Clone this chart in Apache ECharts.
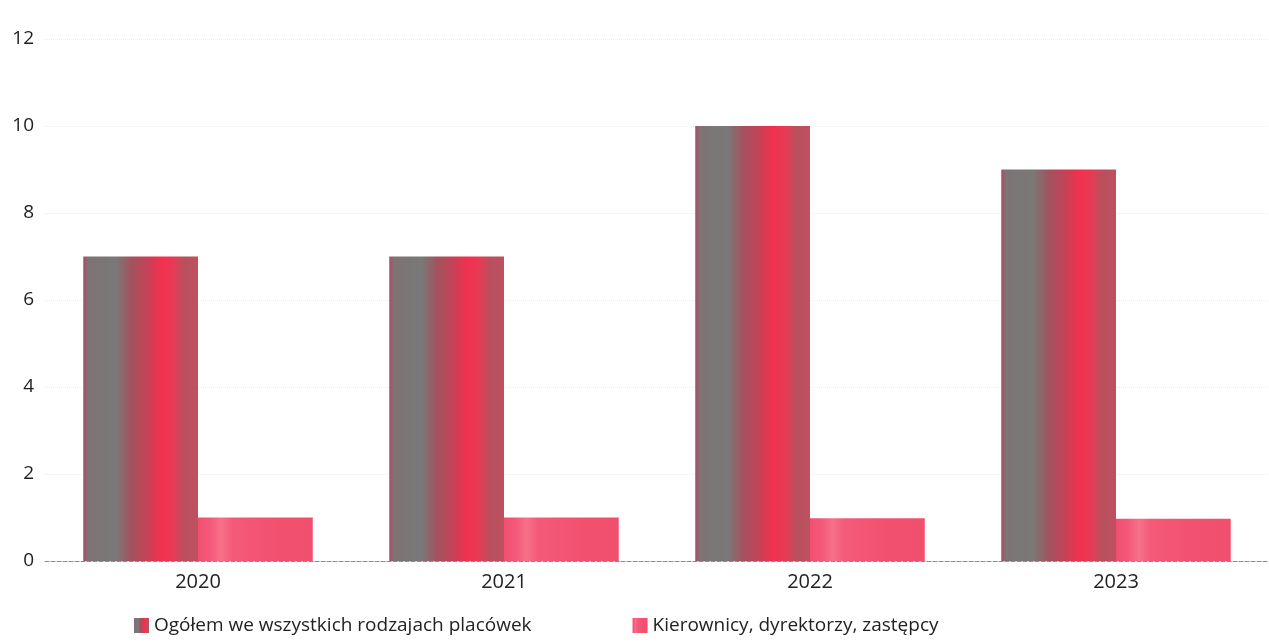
<!DOCTYPE html>
<html>
<head>
<meta charset="utf-8">
<script src="https://cdn.jsdelivr.net/npm/echarts@6/dist/echarts.min.js"></script>
<style>html,body{margin:0;padding:0;background:#fff;}#c{width:1269px;height:644px;}</style>
</head>
<body>
<div id="c"></div>
<script>
const categories = ['2020', '2021', '2022', '2023'];
const seriesNames = ['Ogółem we wszystkich rodzajach placówek', 'Kierownicy, dyrektorzy, zastępcy'];
const totalValues = [7, 7, 10, 9];
const managerValues = [1, 1, 0.98, 0.97];
const yTicks = [0, 2, 4, 6, 8, 10, 12];

const chart = echarts.init(document.getElementById('c'));
const font = "'Open Sans', 'Noto Sans', sans-serif";
const grad1 = new echarts.graphic.LinearGradient(0, 0, 1, 0, [
  {offset: 0, color: '#b04a68'},
  {offset: 0.04, color: '#7d7474'},
  {offset: 0.28, color: '#7a7878'},
  {offset: 0.42, color: '#a4525e'},
  {offset: 0.55, color: '#c44358'},
  {offset: 0.68, color: '#f2304f'},
  {offset: 0.78, color: '#e83a55'},
  {offset: 0.88, color: '#b8505e'},
  {offset: 1, color: '#c0505f'}
]);
const grad2 = new echarts.graphic.LinearGradient(0, 0, 1, 0, [
  {offset: 0, color: '#f0506e'},
  {offset: 0.1, color: '#f4587a'},
  {offset: 0.2, color: '#f67189'},
  {offset: 0.3, color: '#f45a78'},
  {offset: 0.7, color: '#f2506f'},
  {offset: 1, color: '#f04f6d'}
]);
chart.setOption({
  animation: false,
  grid: {left: 45, width: 1234, top: 39, bottom: 83},
  legend: {
    left: 129, top: 611, itemWidth: 15, itemHeight: 15, itemGap: 101,
    icon: 'rect',
    textStyle: {fontFamily: font, fontSize: 19, color: '#222'},
    data: seriesNames
  },
  xAxis: {
    type: 'category', data: categories,
    axisTick: {show: false},
    axisLine: {lineStyle: {color: '#8a8a8a', type: 'dashed', width: 1}},
    axisLabel: {fontFamily: font, fontSize: 20, color: '#222', margin: 11}
  },
  yAxis: {
    type: 'value', min: 0, max: 12, interval: 2,
    axisLabel: {fontFamily: font, fontSize: 19, color: '#222', margin: 11,
      formatter: v => yTicks.includes(v) ? String(v) : ''},
    splitLine: {lineStyle: {color: '#ececec', type: 'dotted'}}
  },
  series: [
    {name: seriesNames[0], type: 'bar', data: totalValues, barGap: 0, barCategoryGap: '25%',
     itemStyle: {color: grad1}},
    {name: seriesNames[1], type: 'bar', data: managerValues, barGap: 0, barCategoryGap: '25%',
     itemStyle: {color: grad2}}
  ]
});
</script>
</body>
</html>
